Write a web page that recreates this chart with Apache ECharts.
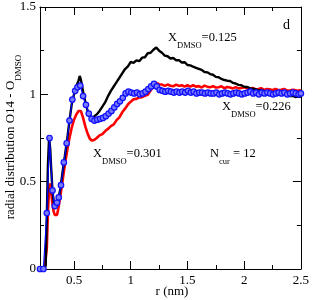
<!DOCTYPE html>
<html><head><meta charset="utf-8">
<script src="https://cdn.jsdelivr.net/npm/echarts@6/dist/echarts.min.js"></script>
<style>html,body{margin:0;padding:0;background:#fff}#c{width:312px;height:300px}</style>
</head><body><div id="c"></div>
<script>
// r grid for X=0.125 and X=0.301 curves (nm)
var r = [0.20,0.22,0.24,0.25,0.26,0.27,0.28,0.29,0.30,0.31, 0.32,0.33,0.34,0.35,0.36,0.38,0.40,0.42,0.44,0.46, 0.48,0.50,0.52,0.54,0.55,0.56,0.58,0.60,0.62,0.64, 0.66,0.68,0.70,
0.725,0.75,0.775,0.80,0.825,0.85,0.875,0.90,0.925,0.95,0.975,1.00,
1.025,1.05,1.075,1.10,1.125,1.15,1.175,1.20,1.225,1.25,1.275,1.30,1.325,1.35,1.375,1.40,1.425,1.45,1.475,1.50,
1.525,1.55,1.575,1.60,1.625,1.65,1.675,1.70,1.725,1.75,1.775,1.80,1.825,1.85,1.875,1.90,1.925,1.95,1.975,2.00,
2.025,2.05,2.075,2.10,2.125,2.15,2.175,2.20,2.225,2.25,2.275,2.30,2.325,2.35,2.375,2.40,2.425,2.45,2.475,2.50];
// X_DMSO = 0.125 (black)
var g125 = [0,0,0,0.02,0.30,0.60,0.75,0.69,0.56,0.45, 0.39,0.36,0.355,0.37,0.40,0.46,0.56,0.65,0.745,0.85, 0.945,1.0,1.045,1.08,1.105,1.085,1.015,0.955,0.905,0.88, 0.865,0.875,0.885,
0.905,0.93,0.955,0.99,1.02,1.045,1.07,1.095,1.12,1.145,1.16,1.185,
1.18,1.195,1.19,1.21,1.212,1.235,1.238,1.255,1.268,1.25,1.238,1.222,1.218,1.205,1.208,1.195,1.196,1.182,1.184,1.168,
1.166,1.158,1.152,1.146,1.14,1.128,1.126,1.116,1.112,1.1,1.098,1.088,1.082,1.078,1.076,1.066,1.062,1.054,1.052,1.043,
1.042,1.036,1.032,1.03,1.022,1.026,1.018,1.016,1.01,1.012,1.004,1.006,0.998,1.0,0.994,0.99,0.992,0.985,0.987,0.984];
// X_DMSO = 0.301 (red)
var g301 = [0,0,0,0.01,0.12,0.33,0.46,0.49,0.43,0.37, 0.33,0.31,0.30,0.31,0.34,0.42,0.51,0.60,0.68,0.75, 0.81,0.855,0.885,0.905,0.91,0.905,0.865,0.815,0.775,0.745, 0.735,0.74,0.75,
0.765,0.772,0.79,0.802,0.818,0.828,0.852,0.868,0.897,0.918,0.942,0.958,
0.972,0.974,0.982,0.984,0.992,0.998,1.022,1.045,1.066,1.058,1.056,1.048,1.056,1.049,1.046,1.056,1.048,1.052,1.044,1.052,
1.044,1.052,1.044,1.047,1.039,1.05,1.044,1.04,1.047,1.039,1.041,1.046,1.035,1.042,1.039,1.034,1.041,1.034,1.036,1.04,
1.034,1.03,1.036,1.029,1.031,1.035,1.025,1.031,1.029,1.024,1.031,1.025,1.026,1.03,1.024,1.02,1.026,1.024,1.02,1.025];
// X_DMSO = 0.226 (blue, circles)
var rb = [0.20,0.23,0.26,0.284,0.31,0.33,0.35,0.365,0.385,0.41,
0.435,0.46,0.485,0.51,0.53,0.555,0.58,0.605,0.63,0.655,
0.68,0.705,0.73,0.755,0.78,0.805,0.83,0.855,0.88,0.905,
0.93,0.955,0.98,1.005,1.03,1.055,1.08,1.105,1.13,1.155,
1.18,1.205,1.23,1.255,1.28,1.305,1.33,1.355,1.38,1.405,
1.43,1.455,1.48,1.505,1.53,1.555,1.58,1.605,1.63,1.655,
1.68,1.705,1.73,1.755,1.78,1.805,1.83,1.855,1.88,1.905,
1.93,1.955,1.98,2.005,2.03,2.055,2.08,2.105,2.13,2.155,
2.18,2.205,2.23,2.255,2.28,2.305,2.33,2.355,2.38,2.405,
2.43,2.455,2.48,2.5];
var g226 = [0,0,0.32,0.75,0.45,0.36,0.38,0.41,0.48,0.61,
0.72,0.85,0.97,1.02,1.04,1.05,0.99,0.94,0.89,0.86,
0.85,0.855,0.86,0.865,0.875,0.89,0.905,0.925,0.945,0.96,
0.98,1.005,1.015,1.01,1.005,1.01,1.0,1.005,1.015,1.03,
1.045,1.06,1.045,1.025,1.02,1.015,1.02,1.015,1.01,1.015,
1.01,1.015,1.01,1.02,1.01,1.015,1.005,1.01,1.01,1.005,
1.01,1.005,1.005,1.01,1.0,1.005,1.01,1.005,1.0,1.005,
1.01,1.005,1.0,1.005,1.01,1.015,1.005,1.01,1.0,1.01,
1.005,1.01,1.005,1.0,1.005,1.01,1.005,1.01,1.0,1.005,
1.01,1.005,1.0,1.005];
var xMajor = [0.5,1,1.5,2,2.5];
var xMinor = [0.25,0.75,1.25,1.75,2.25];
var yLabels = ['0','0.5','1','1.5'];

function pairs(xs, ys){ var o=[]; for(var i=0;i<xs.length;i++) o.push([xs[i], ys[i]]); return o; }

var FF = 'Liberation Serif';
var ch = echarts.init(document.getElementById('c'), null, {renderer:'canvas'});
function xAx(pos, vals, len, showLine, showLabel){
  return {type:'value', position:pos, min:0.2, max:2.5, gridIndex:0,
    axisLine:{show:showLine, onZero:false, lineStyle:{color:'#000', width:1}},
    axisTick:{show:true, inside:true, length:len, customValues:vals, lineStyle:{color:'#000', width:1}},
    axisLabel:{show:showLabel, customValues:vals, margin:5, color:'#000', fontFamily:FF, fontSize:13,
      formatter:function(v){return String(v);}},
    splitLine:{show:false}};
}
function yAx(pos, showLabel){
  return {type:'value', position:pos, min:0, max:1.5, interval:0.5,
    axisLine:{show:true, onZero:false, lineStyle:{color:'#000', width:1}},
    axisTick:{show:true, inside:true, length:8, lineStyle:{color:'#000', width:1}},
    minorTick:{show:true, splitNumber:2, length:4, lineStyle:{color:'#000', width:1}},
    axisLabel:{show:showLabel, margin:4, color:'#000', fontFamily:FF, fontSize:13,
      formatter:function(v){return yLabels[Math.round(v/0.5)];}},
    splitLine:{show:false}, minorSplitLine:{show:false}};
}
var subRich = {
  m:{fontFamily:FF, fontSize:12.5, lineHeight:19, verticalAlign:'top', fill:'#000', color:'#000'},
  s:{fontFamily:FF, fontSize:8.5, lineHeight:9, verticalAlign:'bottom', fill:'#000', color:'#000'}
};
function lab(x, y, txt){
  return {type:'text', x:x, y:y, style:{text:txt, rich:subRich, align:'left', verticalAlign:'top', fill:'#000'}};
}
var option = {
  animation:false,
  grid:{left:40, right:8, top:7, bottom:31},
  xAxis:[xAx('bottom', xMajor, 8, true, true), xAx('bottom', xMinor, 4, false, false),
         xAx('top', xMajor, 8, true, false), xAx('top', xMinor, 4, false, false)],
  yAxis:[yAx('left', true), yAx('right', false)],
  series:[
    {type:'line', data:pairs(r, g301), showSymbol:false, symbol:'none', lineStyle:{color:'#ff0000', width:2.6}, z:2},
    {type:'line', data:pairs(r, g125), showSymbol:false, symbol:'none', lineStyle:{color:'#000000', width:2.4}, z:3},
    {type:'line', data:pairs(rb, g226), symbol:'circle', symbolSize:5.5, showAllSymbol:true,
      itemStyle:{color:'#7a7aff', borderColor:'#1010ff', borderWidth:1.2},
      lineStyle:{color:'#0000ff', width:1.2}, z:4}
  ],
  graphic:[
    lab(168, 31.5, '{m|X}{s|DMSO}{m|=0.125}'),
    lab(222, 100.5, '{m|X}{s|DMSO}{m|=0.226}'),
    lab(93, 147.5, '{m|X}{s|DMSO}{m|=0.301}'),
    lab(210, 147.5, '{m|N}{s|cur}{m| = 12}'),
    {type:'text', x:283, y:18, style:{text:'d', fontFamily:FF, fontSize:14, fill:'#000', align:'left', verticalAlign:'top'}},
    {type:'text', x:172, y:285, style:{text:'r (nm)', fontFamily:FF, fontSize:13, fill:'#000', align:'center', verticalAlign:'top'}},
    {type:'text', x:4, y:137, rotation:Math.PI/2,
      style:{text:'{a|radial distribution O14 - O}{b|DMSO}', align:'center', verticalAlign:'top',
        rich:{a:{fontFamily:FF, fontSize:13, lineHeight:19, verticalAlign:'top', fill:'#000', color:'#000'},
              b:{fontFamily:FF, fontSize:9, lineHeight:9, verticalAlign:'bottom', fill:'#000', color:'#000'}}}}
  ]
};
ch.setOption(option);
</script></body></html>
